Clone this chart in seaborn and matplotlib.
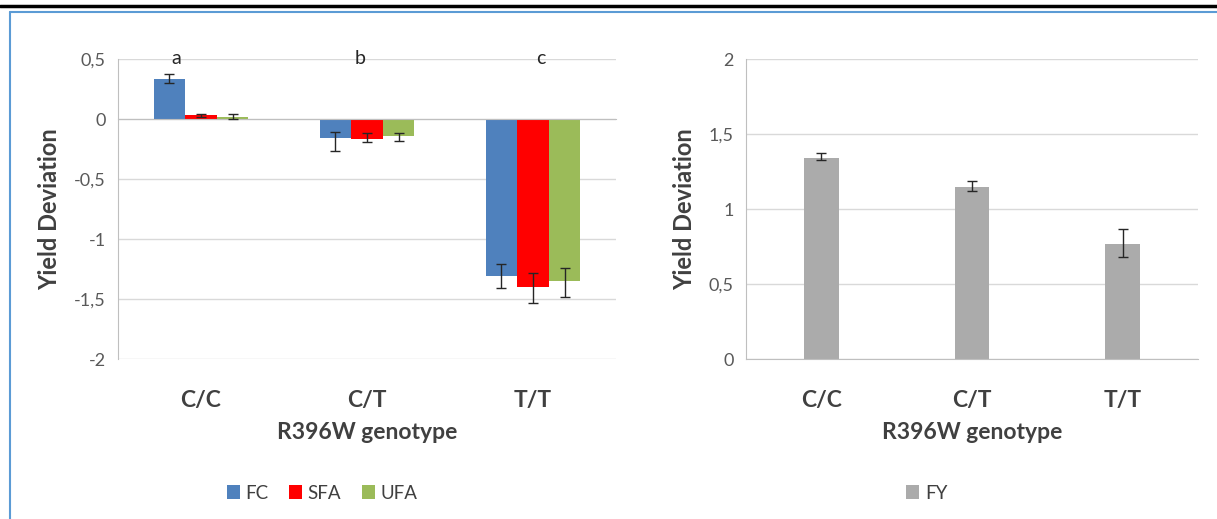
import numpy as np
import pandas as pd
import matplotlib.pyplot as plt
import seaborn as sns
from matplotlib.lines import Line2D
from matplotlib.ticker import FuncFormatter

sns.set_style("white")
plt.rcParams['font.family'] = ['Lato', 'DejaVu Sans']

# data
genotypes = ["C/C", "C/T", "T/T"]
traits = ["FC", "SFA", "UFA"]
fc = [0.33, -0.155, -1.31]
fc_lo = [0.30, -0.27, -1.41]
fc_hi = [0.375, -0.11, -1.205]
sfa = [0.03, -0.165, -1.40]
sfa_lo = [0.015, -0.19, -1.53]
sfa_hi = [0.045, -0.12, -1.28]
ufa = [0.02, -0.145, -1.35]
ufa_lo = [0.0, -0.183, -1.48]
ufa_hi = [0.045, -0.117, -1.24]
letters = ["a", "b", "c"]
letter_shift = [-0.15, -0.04, 0.05]

fy = [1.342, 1.149, 0.77]
fy_lo = [1.325, 1.12, 0.68]
fy_hi = [1.37, 1.19, 0.87]

colors = ["#4F81BD", "#FF0000", "#9BBB59"]
fy_color = "#ABABAB"
tick_col = "#595959"
lab_col = "#404040"
axis_col = "#BFBFBF"
grid_col = "#D9D9D9"

df = pd.DataFrame({
    "genotype": genotypes * 3,
    "trait": np.repeat(traits, 3),
    "value": fc + sfa + ufa,
})
df_fy = pd.DataFrame({"genotype": genotypes, "trait": "FY", "value": fy})

W, H = 1217, 519
fig = plt.figure(figsize=(W / 100, H / 100), dpi=100)

comma = FuncFormatter(lambda v, p: f"{v:g}".replace(".", ","))


def style_axis(ax):
    ax.yaxis.grid(True, color=grid_col, lw=1)
    ax.set_axisbelow(True)
    for s in ["top", "right"]:
        ax.spines[s].set_visible(False)
    ax.spines["left"].set_color(axis_col)
    ax.spines["bottom"].set_color(axis_col)
    ax.yaxis.set_major_formatter(comma)
    ax.tick_params(axis="y", length=6, color=axis_col, labelcolor=tick_col,
                   labelsize=13, pad=3)
    ax.set_ylabel("Yield Deviation", fontsize=17, fontweight="bold",
                  color=lab_col, labelpad=9)


def add_errors(ax, vals, lows, highs):
    for cont, v, lo, hi in zip(ax.containers, vals, lows, highs):
        xs = [p.get_x() + p.get_width() / 2 for p in cont]
        v = np.array(v)
        yerr = [v - np.array(lo), np.array(hi) - v]
        ax.errorbar(xs, v, yerr=yerr, fmt="none", ecolor="#262626",
                    elinewidth=1, capsize=3.5, capthick=1, zorder=5)


# left panel
ax1 = fig.add_axes([118 / W, 1 - 359 / H, 498 / W, 300 / H])
sns.barplot(data=df, x="genotype", y="value", hue="trait", order=genotypes,
            hue_order=traits, palette=colors, width=0.57, errorbar=None,
            saturation=1, linewidth=0, ax=ax1)
ax1.set_xlim(-0.5, 2.5)
ax1.set_ylim(-2, 0.5)
ax1.set_yticks(np.arange(-2, 0.51, 0.5))
style_axis(ax1)
add_errors(ax1, [fc, sfa, ufa], [fc_lo, sfa_lo, ufa_lo], [fc_hi, sfa_hi, ufa_hi])
ax1.spines["bottom"].set_position(("data", 0))
ax1.set_xticks([-0.5, 0.5, 1.5, 2.5], ["", "", "", ""])
ax1.tick_params(axis="x", length=5, color=axis_col)
ax1.set_xlabel("")
sec = ax1.secondary_xaxis(0)
sec.set_xticks(range(3), genotypes)
sec.tick_params(length=0, pad=22, labelsize=16.5, labelcolor=lab_col)
for t in sec.get_xticklabels():
    t.set_fontweight("bold")
sec.spines["bottom"].set_visible(False)
sec.set_xlabel("R396W genotype", fontsize=16.5, fontweight="bold",
               color=lab_col, labelpad=8)
for i, (l, s) in enumerate(zip(letters, letter_shift)):
    ax1.text(i + s, 0.5, l, ha="center", va="center", fontsize=14,
             color="#262626")
sns.move_legend(ax1, "center", bbox_to_anchor=(0.41, -0.447), ncol=3,
                frameon=False, title=None, fontsize=13.5, handlelength=0.7,
                handleheight=0.7, handletextpad=0.3, columnspacing=1.1,
                labelcolor=lab_col)

# right panel
ax2 = fig.add_axes([746 / W, 1 - 359 / H, 452 / W, 300 / H])
sns.barplot(data=df_fy, x="genotype", y="value", hue="trait", order=genotypes,
            palette=[fy_color], width=0.23, errorbar=None, saturation=1,
            linewidth=0, ax=ax2)
ax2.set_xlim(-0.5, 2.5)
ax2.set_ylim(0, 2)
ax2.set_yticks(np.arange(0, 2.01, 0.5))
style_axis(ax2)
add_errors(ax2, [fy], [fy_lo], [fy_hi])
ax2.set_xticks(range(3), genotypes)
ax2.set_xticks([-0.5, 0.5, 1.5, 2.5], minor=True)
ax2.tick_params(axis="x", which="major", length=0, pad=22, labelsize=16.5,
                labelcolor=lab_col)
ax2.tick_params(axis="x", which="minor", length=6, color=axis_col)
for t in ax2.get_xticklabels():
    t.set_fontweight("bold")
ax2.set_xlabel("R396W genotype", fontsize=16.5, fontweight="bold",
               color=lab_col, labelpad=8)
sns.move_legend(ax2, "center", bbox_to_anchor=(0.40, -0.447), ncol=1,
                frameon=False, title=None, fontsize=13.5, handlelength=0.7,
                handleheight=0.7, handletextpad=0.3, labelcolor=lab_col)

# page frame
fig.add_artist(Line2D([0, 1], [1 - 6 / H, 1 - 6 / H], color="black", lw=2.5))
fig.add_artist(Line2D([10 / W, 1], [1 - 12 / H, 1 - 12 / H], color="#5B9BD5", lw=1.5))
fig.add_artist(Line2D([10 / W, 10 / W], [0, 1 - 12 / H], color="#5B9BD5", lw=1.5))

fig.savefig("out.png", dpi=100)
